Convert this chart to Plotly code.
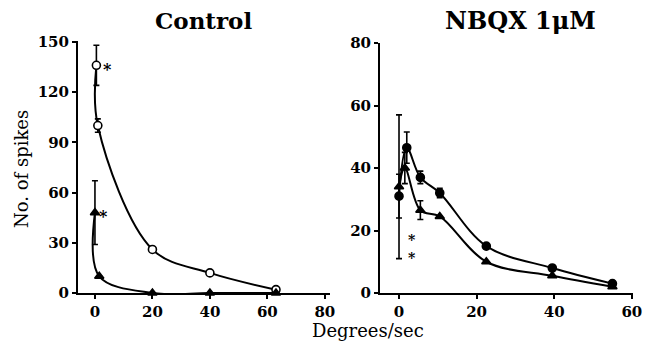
import plotly.graph_objects as go

# ---- data ----
ctrl_circ_x = [0.5, 1, 20, 40, 63]
ctrl_circ_y = [136, 100, 26, 12, 2]
ctrl_circ_err = [12, 4, 0, 0, 0]
ctrl_tri_x = [0, 1.5, 20, 40, 63]
ctrl_tri_y = [48, 10, 0, 0, 0]
ctrl_tri_err = [19, 0, 0, 0, 0]

nbqx_circ_x = [0, 2, 5.5, 10.5, 22.5, 39.5, 55]
nbqx_circ_y = [31, 46.5, 37, 32, 15, 8, 3]
nbqx_circ_err = [7, 5, 2, 1.5, 0, 0, 0]
nbqx_tri_x = [0, 1.5, 5.5, 10.5, 22.5, 39.5, 55]
nbqx_tri_y = [34, 40, 26.5, 24.5, 10, 5.5, 2]
nbqx_tri_err = [23, 5, 3, 0, 0, 0, 0]

ctrl_yticks = [0, 30, 60, 90, 120, 150]
ctrl_xticks = [0, 20, 40, 60, 80]
nbqx_yticks = [0, 20, 40, 60, 80]
nbqx_xticks = [0, 20, 40, 60]

FONT = "DejaVu Serif"
W, H = 646, 342

fig = go.Figure()

def add_series(x, y, err, xa, ya, symbol, fill):
    fig.add_trace(go.Scatter(
        x=x, y=y, xaxis=xa, yaxis=ya, mode="lines+markers",
        line=dict(color="black", width=2, shape="spline", smoothing=1.0),
        marker=dict(symbol=symbol, size=8, color=fill,
                    line=dict(color="black", width=1.6)),
        error_y=dict(type="data", array=err, visible=True, color="black",
                     thickness=1.6, width=3),
        cliponaxis=False, showlegend=False))

add_series(ctrl_circ_x, ctrl_circ_y, ctrl_circ_err, "x", "y", "circle", "white")
add_series(ctrl_tri_x, ctrl_tri_y, ctrl_tri_err, "x", "y", "triangle-up", "black")
add_series(nbqx_circ_x, nbqx_circ_y, nbqx_circ_err, "x2", "y2", "circle", "black")
add_series(nbqx_tri_x, nbqx_tri_y, nbqx_tri_err, "x2", "y2", "triangle-up", "black")

tickfont = dict(family=FONT, size=15, color="black", weight="bold")
axcommon = dict(showgrid=False, zeroline=False, showline=True, linecolor="black",
                linewidth=2, ticks="outside", ticklen=4, tickwidth=2,
                tickcolor="black", tickfont=tickfont, automargin=False)

fig.update_layout(
    width=W, height=H, paper_bgcolor="white", plot_bgcolor="white",
    margin=dict(l=0, r=0, t=0, b=0, pad=0),
    xaxis=dict(domain=[78/W, 330/W], range=[-5.9, 81.8], tickvals=ctrl_xticks,
               anchor="y", **axcommon),
    yaxis=dict(domain=[49/H, 301/H], range=[0, 150.5], tickvals=ctrl_yticks,
               anchor="x", **axcommon),
    xaxis2=dict(domain=[380/W, 633/W], range=[-4.9, 60.3], tickvals=nbqx_xticks,
                anchor="y2", **axcommon),
    yaxis2=dict(domain=[49/H, 299/H], range=[0, 80], tickvals=nbqx_yticks,
                anchor="x2", **axcommon),
)

ast = dict(family=FONT, size=16, color="black", weight="bold")
for (xa, ya, x, y) in [("x", "y", 4.5, 136), ("x", "y", 3.0, 48)]:
    fig.add_annotation(x=x, y=y, xref=xa, yref=ya, text="*", showarrow=False,
                       font=ast, xanchor="center", yanchor="middle", yshift=-4)
fig.add_annotation(x=3.3, y=15, xref="x2", yref="y2", text="*<br>*", showarrow=False,
                   font=dict(family=FONT, size=14, color="black", weight="bold"),
                   xanchor="center", yanchor="middle", yshift=-3)

title_font = dict(family=FONT, size=23, color="black", weight="bold")
fig.add_annotation(x=203/W, y=1-21/H, xref="paper", yref="paper", text="Control",
                   showarrow=False, font=title_font, xanchor="center", yanchor="middle")
fig.add_annotation(x=520/W, y=1-21/H, xref="paper", yref="paper", text="NBQX 1μM",
                   showarrow=False, font=dict(family=FONT, size=24, color="black", weight="bold"),
                   xanchor="center", yanchor="middle")
fig.add_annotation(x=21/W, y=1-169/H, xref="paper", yref="paper", text="No. of spikes",
                   showarrow=False, textangle=-90,
                   font=dict(family=FONT, size=18, color="black"),
                   xanchor="center", yanchor="middle")
fig.add_annotation(x=368/W, y=1-330/H, xref="paper", yref="paper", text="Degrees/sec",
                   showarrow=False, font=dict(family=FONT, size=18, color="black"),
                   xanchor="center", yanchor="middle")

fig.write_html("out.html", config={"displayModeBar": False},
               post_script="document.body.style.margin='0';"
                           "document.body.style.overflow='hidden';")
